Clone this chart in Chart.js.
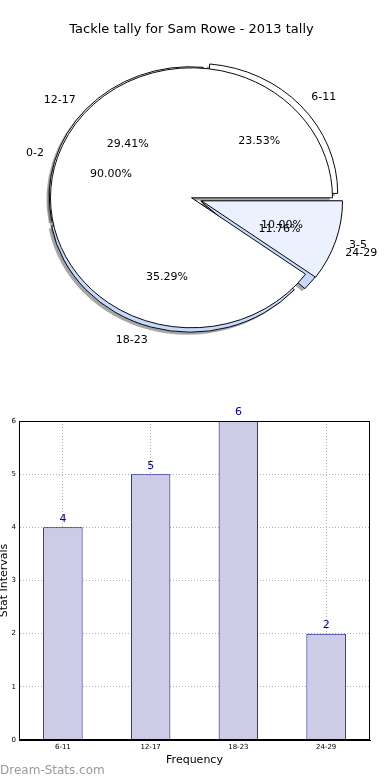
<!DOCTYPE html>
<html>
<head>
<meta charset="utf-8">
<script src="https://cdn.jsdelivr.net/npm/chart.js@4.4.1/dist/chart.umd.min.js"></script>
<style>
  body { margin: 0; background: #fff; width: 390px; height: 780px; position: relative; overflow: hidden; }
  #pie { position: absolute; left: 0; top: 0; }
  #bar { position: absolute; left: 0; top: 390px; }
  .mark { position: absolute; left: 0; top: 762px; font: 12px "DejaVu Sans", sans-serif; color: #999; line-height: 16px; }
</style>
</head>
<body>
<canvas id="pie" width="390" height="348"></canvas>
<canvas id="bar" width="390" height="390"></canvas>
<div class="mark">Dream-Stats.com</div>
<script>
// data
const pieOneLabels = ['6-11', '12-17', '18-23', '24-29'];
const pieOneValues = [4, 5, 6, 2];
const pieTwoLabels = ['0-2', '3-5'];
const pieTwoValues = [9, 1];
const barLabels = ['6-11', '12-17', '18-23', '24-29'];
const barValues = [4, 5, 6, 2];
const yTicks = [0, 1, 2, 3, 4, 5, 6];

// styles
const pieOneColors = ['#ffffff', '#ffffff', '#c6d9fd', '#c6d9fd'];
const pieOneExplode = [0.05, 0.012, 0.035, 0.07];
const pieTwoColors = ['#ffffff', '#ebf1fd'];
const pieTwoExplode = [0, 0.075];

const R = 141;          // horizontal radius
const SY = 130 / 141;   // pie is drawn as an ellipse
const FONT = '"DejaVu Sans", sans-serif';

Chart.defaults.font.family = FONT;
Chart.defaults.color = '#000';

const rev = a => a.slice().reverse();

// matplotlib goes counter-clockwise from 3 o'clock, Chart.js clockwise -> reverse
function wedges(values, names, colors, explode, order) {
  return {
    data: rev(values), names: rev(names), backgroundColor: rev(colors),
    borderColor: '#000', borderWidth: 1, explode: rev(explode), shift: 0, order
  };
}
function shadow(values, explode, order) {
  return {
    data: rev(values), backgroundColor: 'rgba(77,77,77,0.5)', borderWidth: 0,
    explode: rev(explode), shift: 2.8, order
  };
}

const piePlugin = {
  id: 'overlapPies',
  afterDatasetsUpdate(chart) {
    const { left, right, top, bottom } = chart.chartArea;
    const cx = (left + right) / 2, cy = (top + bottom) / 2;
    chart.data.datasets.forEach((ds, i) => {
      chart.getDatasetMeta(i).data.forEach((arc, j) => {
        const mid = (arc.startAngle + arc.endAngle) / 2;
        const d = ds.explode[j] * R;
        arc.innerRadius = 0;
        arc.outerRadius = R;
        arc.x = cx + Math.cos(mid) * d - ds.shift;
        arc.y = cy + Math.sin(mid) * d + ds.shift;
      });
    });
  },
  beforeDatasetsDraw(chart) {
    const { ctx } = chart;
    const { left, right, top, bottom } = chart.chartArea;
    const cx = (left + right) / 2, cy = (top + bottom) / 2;
    ctx.save();
    ctx.translate(cx, cy);
    ctx.scale(1, SY);
    ctx.translate(-cx, -cy);
  },
  afterDatasetsDraw(chart) {
    const { ctx } = chart;
    ctx.restore();
    const { left, right, top, bottom } = chart.chartArea;
    const cx = (left + right) / 2, cy = (top + bottom) / 2;
    ctx.save();
    ctx.fillStyle = '#000';
    ctx.font = '11px ' + FONT;
    ctx.textBaseline = 'middle';
    // pie one first, then pie two on top
    [2, 3].forEach(i => {
      const ds = chart.data.datasets[i];
      const sum = ds.data.reduce((a, b) => a + b, 0);
      chart.getDatasetMeta(i).data.forEach((arc, j) => {
        const mid = (arc.startAngle + arc.endAngle) / 2;
        const d = ds.explode[j] * R;
        const c = Math.cos(mid), s = Math.sin(mid);
        ctx.textAlign = c > 0 ? 'left' : 'right';
        ctx.fillText(ds.names[j], cx + c * (1.1 * R + d), cy + s * (1.1 * R + d) * SY);
        ctx.textAlign = 'center';
        const pct = (ds.data[j] / sum * 100).toFixed(2) + '%';
        ctx.fillText(pct, cx + c * (0.6 * R + d), cy + s * (0.6 * R + d) * SY);
      });
    });
    ctx.restore();
  }
};

new Chart(document.getElementById('pie'), {
  type: 'pie',
  data: {
    labels: rev(pieOneLabels),
    datasets: [
      shadow(pieOneValues, pieOneExplode, 3),
      shadow(pieTwoValues, pieTwoExplode, 2),
      wedges(pieOneValues, pieOneLabels, pieOneColors, pieOneExplode, 1),
      wedges(pieTwoValues, pieTwoLabels, pieTwoColors, pieTwoExplode, 0)
    ]
  },
  options: {
    responsive: false,
    animation: false,
    events: [],
    rotation: 90,
    layout: { padding: { right: 7 } },
    plugins: {
      legend: { display: false },
      tooltip: { enabled: false },
      title: {
        display: true,
        text: 'Tackle tally for Sam Rowe - 2013 tally',
        color: '#000',
        font: { size: 13, weight: 'normal' },
        padding: { top: 22, bottom: 10 }
      }
    }
  },
  plugins: [piePlugin]
});

// --- bar chart ---

const barExtras = {
  id: 'barExtras',
  afterDatasetsDraw(chart) {
    const { ctx, chartArea: a } = chart;
    ctx.save();
    ctx.strokeStyle = '#000';
    ctx.lineWidth = 1;
    ctx.strokeRect(Math.round(a.left) + 0.5, Math.round(a.top) + 0.5,
      Math.round(a.right - a.left) - 1, Math.round(a.bottom - a.top) - 1);
    ctx.fillStyle = '#00008b';
    ctx.font = '11px ' + FONT;
    ctx.textAlign = 'center';
    ctx.textBaseline = 'bottom';
    chart.getDatasetMeta(0).data.forEach((bar, i) => {
      ctx.fillText(String(barValues[i]), bar.x, bar.y - 3);
    });
    ctx.restore();
  }
};

new Chart(document.getElementById('bar'), {
  type: 'bar',
  data: {
    labels: barLabels,
    datasets: [{
      data: barValues,
      backgroundColor: '#ccccE6',
      borderColor: '#00008b',
      borderWidth: 1,
      barPercentage: 0.45,
      categoryPercentage: 1
    }]
  },
  options: {
    responsive: false,
    animation: false,
    events: [],
    layout: { padding: { top: 31, right: 20, bottom: 13, left: 0 } },
    plugins: { legend: { display: false }, tooltip: { enabled: false } },
    scales: {
      x: {
        grid: { offset: false, color: '#b0b0b0', drawTicks: false },
        border: { color: '#000', dash: [1, 2] },
        ticks: { font: { size: 7 }, color: '#000', padding: 3 },
        title: { display: true, text: 'Frequency', color: '#000', font: { size: 11 }, padding: 0 },
        afterFit: s => { s.height = 27; }
      },
      y: {
        min: yTicks[0],
        max: yTicks[yTicks.length - 1],
        ticks: { stepSize: 1, font: { size: 7 }, color: '#000', padding: 3 },
        grid: { color: '#b0b0b0', drawTicks: false },
        border: { color: '#000', dash: [1, 2] },
        title: { display: true, text: 'Stat Intervals', color: '#000', font: { size: 11, lineHeight: 0.8 }, padding: 0 },
        afterFit: s => { s.width = 19; }
      }
    }
  },
  plugins: [barExtras]
});
</script>
</body>
</html>
